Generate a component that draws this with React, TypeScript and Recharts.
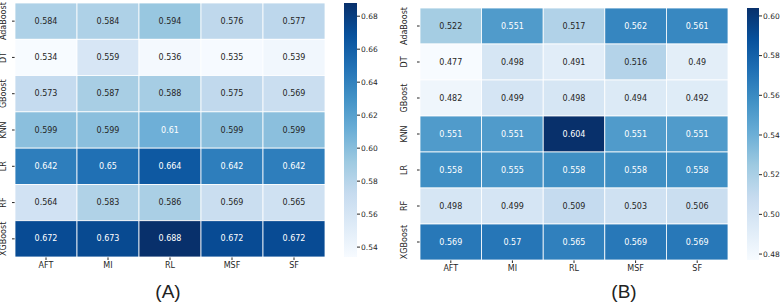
import React from 'react';
import { ScatterChart, Scatter, XAxis, YAxis, BarChart, Bar } from 'recharts';

const methods = ['AFT', 'MI', 'RL', 'MSF', 'SF'];
const models = ['AdaBoost', 'DT', 'GBoost', 'KNN', 'LR', 'RF', 'XGBoost'];

const scoresA = [
  [0.584, 0.584, 0.594, 0.576, 0.577],
  [0.534, 0.559, 0.536, 0.535, 0.539],
  [0.573, 0.587, 0.588, 0.575, 0.569],
  [0.599, 0.599, 0.61, 0.599, 0.599],
  [0.642, 0.65, 0.664, 0.642, 0.642],
  [0.564, 0.583, 0.586, 0.569, 0.565],
  [0.672, 0.673, 0.688, 0.672, 0.672],
];

const scoresB = [
  [0.522, 0.551, 0.517, 0.562, 0.561],
  [0.477, 0.498, 0.491, 0.516, 0.49],
  [0.482, 0.499, 0.498, 0.494, 0.492],
  [0.551, 0.551, 0.604, 0.551, 0.551],
  [0.558, 0.555, 0.558, 0.558, 0.558],
  [0.498, 0.499, 0.509, 0.503, 0.506],
  [0.569, 0.57, 0.565, 0.569, 0.569],
];

const ticksA = [0.54, 0.56, 0.58, 0.6, 0.62, 0.64, 0.66, 0.68];
const ticksB = [0.48, 0.5, 0.52, 0.54, 0.56, 0.58, 0.6];

// matplotlib "Blues"
const BLUES = ['#f7fbff', '#deebf7', '#c6dbef', '#9ecae1', '#6baed6', '#4292c6', '#2171b5', '#08519c', '#08306b'];

const hexToRgb = (h: string) => [1, 3, 5].map(i => parseInt(h.slice(i, i + 2), 16));

const blues = (t: number) => {
  const c = Math.max(0, Math.min(1, t)) * (BLUES.length - 1);
  const i = Math.min(Math.floor(c), BLUES.length - 2);
  const f = c - i;
  const a = hexToRgb(BLUES[i]);
  const b = hexToRgb(BLUES[i + 1]);
  return a.map((v, k) => Math.round(v + (b[k] - v) * f));
};

const luminance = (rgb: number[]) => {
  const lin = rgb.map(v => {
    const s = v / 255;
    return s <= 0.03928 ? s / 12.92 : Math.pow((s + 0.055) / 1.055, 2.4);
  });
  return 0.2126 * lin[0] + 0.7152 * lin[1] + 0.0722 * lin[2];
};

const FONT = 'DejaVu Sans, sans-serif';

type PanelProps = {
  id: string;
  scores: number[][];
  ticks: number[];
  left: number;
  top: number;
  plotW: number;
  plotH: number;
  yAxisW: number;
  labelGap: number;
  barLeft: number;
  barW: number;
  caption: string;
  captionX: number;
};

const Panel: React.FC<PanelProps> = ({ id, scores, ticks, left, top, plotW, plotH, yAxisW, labelGap, barLeft, barW, caption, captionX }) => {
  const flat = scores.flat();
  const min = Math.min(...flat);
  const max = Math.max(...flat);
  const data = scores.flatMap((row, r) => row.map((v, c) => ({ x: c, y: r, v })));
  const cellW = plotW / methods.length;
  const cellH = plotH / models.length;
  const chartW = yAxisW + plotW + 10;
  const chartH = top + plotH + 25;

  const Cell = (props: any) => {
    const { cx, cy, payload } = props;
    const rgb = blues((payload.v - min) / (max - min));
    const dark = luminance(rgb) > 0.408;
    return (
      <g>
        <rect
          x={cx - cellW / 2}
          y={cy - cellH / 2}
          width={cellW}
          height={cellH}
          fill={`rgb(${rgb.join(',')})`}
          stroke="#fff"
          strokeWidth={0.8}
        />
        <text
          x={cx}
          y={cy}
          textAnchor="middle"
          dominantBaseline="central"
          fontSize={8}
          fontFamily={FONT}
          fill={dark ? '#262626' : '#fff'}
        >
          {String(payload.v)}
        </text>
      </g>
    );
  };

  const YTick = (props: any) => {
    const { x, y, payload } = props;
    const bx = x + 3 - labelGap;
    return (
      <text
        x={bx}
        y={y}
        transform={`rotate(-90, ${bx}, ${y})`}
        textAnchor="middle"
        fontSize={8}
        fontFamily={FONT}
        fill="#262626"
      >
        {models[payload.value]}
      </text>
    );
  };

  const barData = [{ name: id, span: [min, max] }];

  return (
    <>
      <div style={{ position: 'absolute', left, top: 0 }}>
        <ScatterChart width={chartW} height={chartH} margin={{ top, right: 10, bottom: 5, left: 0 }}>
          <XAxis
            type="number"
            dataKey="x"
            domain={[-0.5, methods.length - 0.5]}
            ticks={methods.map((_, i) => i)}
            tickFormatter={(i: number) => methods[i]}
            axisLine={false}
            tickSize={3}
            tickLine={{ stroke: '#262626' }}
            tick={{ fontSize: 8, fontFamily: FONT, fill: '#262626' }}
            height={20}
            interval={0}
          />
          <YAxis
            type="number"
            dataKey="y"
            reversed
            domain={[-0.5, models.length - 0.5]}
            ticks={models.map((_, i) => i)}
            axisLine={false}
            tickSize={3}
            tickLine={{ stroke: '#262626' }}
            tick={<YTick />}
            width={yAxisW}
            interval={0}
          />
          <Scatter data={data} shape={Cell} isAnimationActive={false} />
        </ScatterChart>
      </div>
      <div style={{ position: 'absolute', left: barLeft, top: 0 }}>
        <BarChart width={barW + 26} height={top + plotH + 3} data={barData} margin={{ top, right: 0, bottom: 3, left: 0 }} barCategoryGap={0}>
          <defs>
            <linearGradient id={`grad${id}`} x1="0" y1="1" x2="0" y2="0">
              {BLUES.map((c, i) => (
                <stop key={c} offset={i / (BLUES.length - 1)} stopColor={c} />
              ))}
            </linearGradient>
          </defs>
          <XAxis dataKey="name" hide />
          <YAxis
            orientation="right"
            type="number"
            domain={[min, max]}
            ticks={ticks}
            tickFormatter={(v: number) => v.toFixed(2)}
            axisLine={false}
            tickSize={3}
            tickMargin={1}
            tickLine={{ stroke: '#262626' }}
            tick={{ fontSize: 7.5, fontFamily: FONT, fill: '#262626' }}
            width={26}
            allowDataOverflow
          />
          <Bar dataKey="span" fill={`url(#grad${id})`} isAnimationActive={false} />
        </BarChart>
      </div>
      <div
        style={{
          position: 'absolute',
          left: captionX - 30,
          width: 60,
          top: 281,
          textAlign: 'center',
          fontSize: 19,
          fontFamily: 'Liberation Sans, Arial, sans-serif',
          color: '#222',
        }}
      >
        {caption}
      </div>
    </>
  );
};

export default function App() {
  return (
    <div style={{ position: 'absolute', left: 0, top: 0, width: 783, height: 303, background: '#fff', overflow: 'hidden' }}>
      <Panel
        id="A"
        scores={scoresA}
        ticks={ticksA}
        left={0}
        top={3}
        plotW={310}
        plotH={254}
        yAxisW={15}
        labelGap={7}
        barLeft={344}
        barW={13}
        caption="(A)"
        captionX={168}
      />
      <Panel
        id="B"
        scores={scoresB}
        ticks={ticksB}
        left={390}
        top={8}
        plotW={308}
        plotH={252}
        yAxisW={30}
        labelGap={11}
        barLeft={747}
        barW={12}
        caption="(B)"
        captionX={624}
      />
    </div>
  );
}
